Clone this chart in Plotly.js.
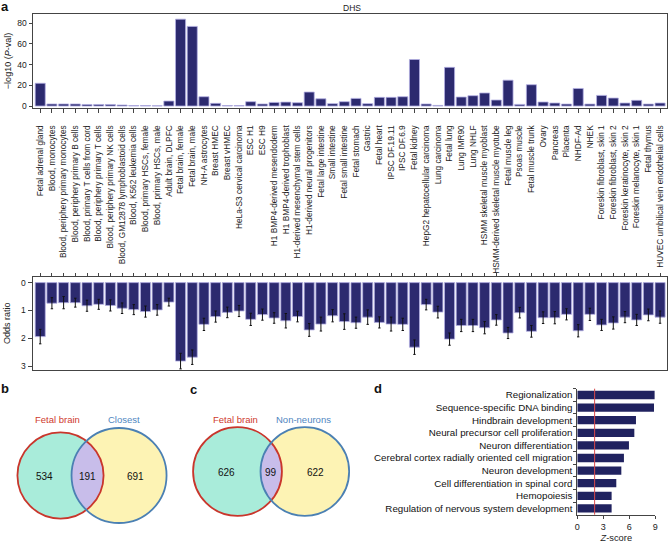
<!DOCTYPE html>
<html>
<head>
<meta charset="utf-8">
<script src="https://cdn.plot.ly/plotly-3.0.1.min.js"></script>
<style>html,body{margin:0;padding:0;background:#fff;}#chart{width:668px;height:543px;}</style>
</head>
<body>
<div id="chart"></div>
<script>
// ---------- DATA ----------
const tissues = [
  "Fetal adrenal gland","Blood, monocytes","Blood, periphery primary monocytes","Blood, periphery primary B cells",
  "Blood, primary T cells from cord","Blood, periphery primary T cells","Blood, periphery primary NK cells",
  "Blood, GM12878 lymphoblastoid cells","Blood, K562 leukemia cells","Blood, primary HSCs, female",
  "Blood, primary HSCs, male","Adult brain, DLPFC","Fetal brain, female","Fetal brain, male","NH-A astrocytes",
  "Breast HMEC","Breast vHMEC","HeLa-S3 cervical carcinoma","ESC H1","ESC H9","H1 BMP4-derived mesendoderm",
  "H1 BMP4-derived trophoblast","H1-derived mesenchymal stem cells","H1-derived neural progenitors",
  "Fetal large intestine","Small intestine","Fetal small intestine","Fetal stomach","Gastric","Fetal heart",
  "IPSC DF.19.11","IPSC DF.6.9","Fetal kidney","HepG2 hepatocellular carcinoma","Lung carcinoma","Fetal lung",
  "Lung IMR90","Lung NHLF","HSMM skeletal muscle myoblast","HSMM-derived skeletal muscle myotube",
  "Fetal muscle leg","Psoas muscle","Fetal muscle trunk","Ovary","Pancreas","Placenta","NHDF-Ad","NHEK",
  "Foreskin fibroblast, skin 1","Foreskin fibroblast, skin 2","Foreskin keratinocyte, skin 2",
  "Foreskin melanocyte, skin 1","Fetal thymus","HUVEC umbilical vein endothelial cells"
];
const negLog10P = [22,2,2,2,1.5,1.5,1.5,1,0.5,0.5,0.3,4.8,84,77,9,2.6,0.5,0.5,4.2,2,3.5,3.8,3.2,13.5,7,2.3,
  4.2,7.4,2.3,8.4,8.4,9,45,2,0.6,37.4,8.7,10,12.6,5.8,25,1.6,20.6,3.9,2.9,1.9,17,1.9,10.3,7.7,2.9,5.5,1.9,2.9];
const oddsRatio = [1.94,0.74,0.72,0.72,0.83,0.78,0.82,0.92,0.97,1.04,0.98,0.70,2.82,2.68,1.5,1.22,1.07,1.02,
  1.32,1.15,1.27,1.37,1.22,1.70,1.49,1.19,1.40,1.44,1.24,1.43,1.49,1.50,2.32,0.79,1.06,2.03,1.54,1.54,1.62,
  1.34,1.81,1.08,1.75,1.26,1.26,1.14,1.73,1.14,1.52,1.45,1.24,1.34,1.16,1.24];
const oddsErr = [0.26,0.2,0.22,0.16,0.2,0.18,0.2,0.19,0.18,0.2,0.19,0.14,0.28,0.26,0.22,0.2,0.19,0.2,0.22,0.2,
  0.19,0.26,0.19,0.23,0.25,0.22,0.28,0.2,0.26,0.2,0.25,0.22,0.26,0.19,0.21,0.22,0.22,0.22,0.22,0.19,0.2,0.19,
  0.21,0.21,0.22,0.2,0.22,0.22,0.2,0.22,0.2,0.2,0.21,0.22];
const pvalTicks = [0,20,40,60,80];
const oddsTicks = [0,1,2,3];

const vennB = {labels:["Fetal brain","Closest"], onlyA:534, both:191, onlyB:691};
const vennC = {labels:["Fetal brain","Non-neurons"], onlyA:626, both:99, onlyB:622};

const goTerms = ["Regionalization","Sequence-specific DNA binding","Hindbrain development",
  "Neural precursor cell proliferation","Neuron differentiation","Cerebral cortex radially oriented cell migration",
  "Neuron development","Cell differentiation in spinal cord","Hemopoiesis","Regulation of nervous system development"];
const zScores = [8.92,8.85,6.77,6.58,5.96,5.38,5.08,4.5,3.96,3.96];
const zThreshold = 2;
const zTicks = [0,3,6,9];

// ---------- STYLE / LAYOUT HELPERS ----------
const W = 668, H = 543;
const FONT = "Liberation Sans, Arial, Helvetica, sans-serif";
const px = v => v / W;              // x pixel -> paper
const py = v => (H - v) / H;        // y pixel -> paper
const navy = '#2c2a6f', edge = '#b3aee2', axisCol = '#444';

const traces = [
  {type:'bar', x:tissues, y:negLog10P, xaxis:'x', yaxis:'y', width:0.86,
   marker:{color:navy, line:{color:edge, width:0.8}}, hoverinfo:'x+y'},
  {type:'bar', x:tissues, y:oddsRatio, xaxis:'x2', yaxis:'y2', width:0.86,
   marker:{color:navy, line:{color:edge, width:0.8}},
   error_y:{type:'data', array:oddsErr, visible:true, color:'#111', thickness:1, width:1.2}},
  {type:'bar', orientation:'h', y:goTerms, x:zScores, xaxis:'x3', yaxis:'y3', width:0.66,
   marker:{color:'#20225f', line:{color:'#20225f', width:0}}}
];

const catRange = [-0.66, 53.55];
const xDom = [px(32.5), px(666.5)];

// ---------- VENN (area-proportional) ----------
function lensArea(r1, r2, d){
  if (d >= r1 + r2) return 0;
  if (d <= Math.abs(r1 - r2)) return Math.PI * Math.min(r1, r2) ** 2;
  const a1 = Math.acos((d*d + r1*r1 - r2*r2) / (2*d*r1));
  const a2 = Math.acos((d*d + r2*r2 - r1*r1) / (2*d*r2));
  return r1*r1*a1 + r2*r2*a2 - 0.5*Math.sqrt((-d+r1+r2)*(d+r1-r2)*(d-r1+r2)*(d+r1+r2));
}
const shapes = [], annotations = [];
function buildVenn(v, xref, yref, scale, cx1, cy, labelShift){
  const nA = v.onlyA + v.both, nB = v.onlyB + v.both;
  const r1 = scale * Math.sqrt(nA), r2 = scale * Math.sqrt(nB);
  const target = Math.PI * scale * scale * v.both;
  let lo = Math.abs(r1 - r2), hi = r1 + r2;
  for (let i = 0; i < 60; i++){
    const mid = (lo + hi) / 2;
    if (lensArea(r1, r2, mid) > target) lo = mid; else hi = mid;
  }
  const d = (lo + hi) / 2, cx2 = cx1 + d;
  const a = (d*d + r1*r1 - r2*r2) / (2*d);
  const h = Math.sqrt(Math.max(r1*r1 - a*a, 0));
  const t1 = Math.atan2(h, a), t2 = Math.atan2(h, d - a);
  const pts = [];
  const N = 40;
  for (let i = 0; i <= N; i++){ const t = -t1 + 2*t1*i/N; pts.push([cx1 + r1*Math.cos(t), cy + r1*Math.sin(t)]); }
  for (let i = 0; i <= N; i++){ const t = Math.PI - t2 + 2*t2*i/N; pts.push([cx2 + r2*Math.cos(t), cy - r2*Math.sin(t)]); }
  const path = 'M ' + pts.map(p => p[0].toFixed(2) + ',' + p[1].toFixed(2)).join(' L ') + ' Z';
  const circ = (cx, r, fill, line) => ({type:'circle', xref, yref, x0:cx-r, x1:cx+r, y0:cy-r, y1:cy+r,
    fillcolor:fill, line:line, layer:'above'});
  shapes.push(circ(cx1, r1, '#a9ecda', {width:0}));
  shapes.push(circ(cx2, r2, '#fdf3b4', {width:0}));
  shapes.push({type:'path', xref, yref, path, fillcolor:'#c8bdea', line:{width:0}, layer:'above'});
  shapes.push(circ(cx1, r1, 'rgba(0,0,0,0)', {color:'#c9362c', width:1.8}));
  shapes.push(circ(cx2, r2, 'rgba(0,0,0,0)', {color:'#4b80b3', width:1.8}));
  const leftA = cx1 - r1, rightA = cx1 + r1, leftB = cx2 - r2, rightB = cx2 + r2;
  const numFont = {family:FONT, size:10, color:'#111'};
  const mk = (x, t) => ({xref, yref, x, y:cy + 1, text:String(t), showarrow:false, font:numFont,
    xanchor:'center', yanchor:'middle'});
  annotations.push(mk((leftA + leftB)/2, v.onlyA), mk((leftB + rightA)/2, v.both), mk((rightA + rightB)/2, v.onlyB));
  const top = cy - Math.max(r1, r2) - 8;
  annotations.push({xref, yref, x:cx1 - labelShift[0], y:top, text:v.labels[0], showarrow:false,
    font:{family:FONT, size:9.5, color:'#cf3a2e'}, xanchor:'center', yanchor:'middle'});
  annotations.push({xref, yref, x:cx2 + labelShift[1], y:top, text:v.labels[1], showarrow:false,
    font:{family:FONT, size:9.5, color:'#4f86bf'}, xanchor:'center', yanchor:'middle'});
}
buildVenn(vennB, 'x4', 'y4', 1.6, 60.5, 475.5, [3, 5]);
buildVenn(vennC, 'x5', 'y5', 1.65, 237.5, 471.5, [2, -1]);

// Threshold line in panel d
shapes.push({type:'line', xref:'x3', yref:'y3 domain', x0:zThreshold, x1:zThreshold, y0:0, y1:1,
  line:{color:'#d9484a', width:1}, layer:'above'});

// Panel letters & DHS title
const letter = (t, x, y) => ({xref:'paper', yref:'paper', x:px(x), y:py(y), text:'<b>'+t+'</b>', showarrow:false,
  font:{family:FONT, size:13, color:'#111'}, xanchor:'center', yanchor:'middle'});
annotations.push(letter('a', 5, 6.5), letter('b', 5, 388), letter('c', 193.5, 389), letter('d', 377.5, 388));
annotations.push({xref:'paper', yref:'paper', x:px(352), y:py(7.5), text:'DHS', showarrow:false,
  font:{family:FONT, size:8.5, color:'#222'}, xanchor:'center', yanchor:'middle'});

const hidden = {visible:false, showgrid:false, zeroline:false, fixedrange:true};

const layout = {
  width:W, height:H, margin:{l:0, r:0, t:0, b:0}, showlegend:false,
  paper_bgcolor:'#fff', plot_bgcolor:'rgba(0,0,0,0)',
  font:{family:FONT, size:8.5, color:'#222'},
  xaxis:{domain:xDom, anchor:'y', type:'category', range:catRange, tickmode:'array', tickvals:tissues, ticktext:tissues,
    tickangle:-90, ticks:'outside', ticklen:4, tickwidth:1, tickcolor:axisCol, ticklabelstandoff:9,
    tickfont:{family:FONT, size:8.3, color:'#222'}, showline:true, linecolor:axisCol, linewidth:1, mirror:true,
    showgrid:false, zeroline:false, fixedrange:true},
  yaxis:{domain:[py(108), py(14)], anchor:'x', range:[-1.9, 89], tickmode:'array', tickvals:pvalTicks,
    ticks:'outside', ticklen:3, tickcolor:axisCol, showline:true, linecolor:axisCol, linewidth:1, mirror:true,
    showgrid:false, zeroline:false, tickfont:{family:FONT, size:8.5},
    title:{text:'\u2212log10 (<i>P</i>-val)', font:{family:FONT, size:9}, standoff:4}, fixedrange:true},
  xaxis2:{domain:xDom, anchor:'y2', side:'top', type:'category', range:catRange, tickmode:'array', tickvals:tissues,
    showticklabels:false, ticks:'outside', ticklen:3, tickcolor:axisCol, showline:true, linecolor:axisCol,
    linewidth:1, mirror:true, showgrid:false, zeroline:false, fixedrange:true},
  yaxis2:{domain:[py(370), py(276.5)], anchor:'x2', range:[3.14, -0.22], tickmode:'array', tickvals:oddsTicks,
    ticks:'outside', ticklen:4, tickcolor:axisCol, showline:true, linecolor:axisCol, linewidth:1, mirror:true,
    showgrid:false, zeroline:false, tickfont:{family:FONT, size:8.5},
    title:{text:'Odds ratio', font:{family:FONT, size:9}, standoff:8}, fixedrange:true},
  xaxis3:{domain:[px(577.3), px(655.3)], anchor:'y3', range:[0, 9], tickmode:'array', tickvals:zTicks,
    ticks:'outside', ticklen:3, tickcolor:axisCol, showline:true, linecolor:axisCol, linewidth:1,
    showgrid:false, zeroline:false, tickfont:{family:FONT, size:9},
    title:{text:'<i>Z</i>-score', font:{family:FONT, size:9.3}, standoff:3}, fixedrange:true},
  yaxis3:{domain:[py(514.7), py(388.7)], anchor:'x3', type:'category', autorange:'reversed',
    ticks:'outside', ticklen:3, tickson:'boundaries', tickcolor:axisCol, showline:true, linecolor:axisCol,
    linewidth:1, showgrid:false, zeroline:false, tickfont:{family:FONT, size:9.75, color:'#111'},
    ticklabelstandoff:2, fixedrange:true},
  xaxis4:Object.assign({domain:[0, px(185)], range:[0, 185], anchor:'y4'}, hidden),
  yaxis4:Object.assign({domain:[py(540), py(400)], range:[540, 400], anchor:'x4'}, hidden),
  xaxis5:Object.assign({domain:[px(185), px(365)], range:[185, 365], anchor:'y5'}, hidden),
  yaxis5:Object.assign({domain:[py(540), py(400)], range:[540, 400], anchor:'x5'}, hidden),
  shapes, annotations
};

Plotly.newPlot('chart', traces, layout, {staticPlot:true, displayModeBar:false});
</script>
</body>
</html>
